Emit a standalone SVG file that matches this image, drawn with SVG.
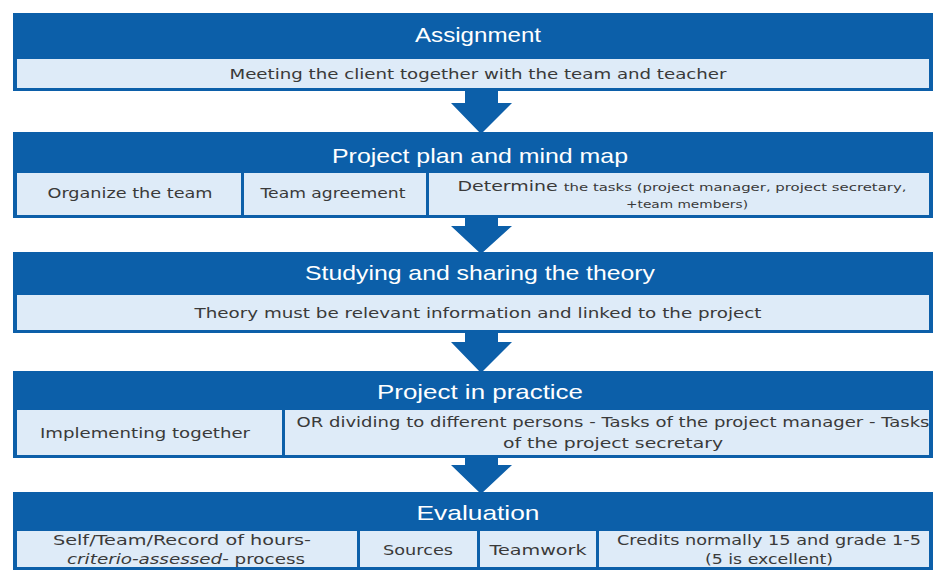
<svg xmlns="http://www.w3.org/2000/svg" width="936" height="578" viewBox="0 0 936 578">
<style>
.frame{fill:#0c5fa9}
.cell{fill:#deebf8}
.hd{font-family:"Liberation Sans","Open Sans",sans-serif;font-size:21px;fill:#ffffff;text-anchor:middle}
.tx{font-family:"DejaVu Sans","Liberation Sans",sans-serif;font-size:14px;fill:#3a3a3a;text-anchor:middle}
.sm{font-size:11px}
.arrow{fill:#0c5fa9}
</style>
<rect width="936" height="578" fill="#ffffff"/>
<g id="connectors">
<polygon class="arrow" points="465,89 498,89 498,103 512,103 481,134 451,103 465,103"/>
<polygon class="arrow" points="465,216 498,216 498,226 512,226 481,254 451,226 465,226"/>
<polygon class="arrow" points="465,331 498,331 498,342 512,342 481,373 451,342 465,342"/>
<polygon class="arrow" points="465,456 498,456 498,465 512,465 481,494 451,465 465,465"/>
</g>
<g id="assignment">
<rect class="frame" x="13" y="13" width="920" height="78"/>
<rect class="cell" x="17" y="59" width="912" height="29"/>
<text class="hd" x="478" y="42" textLength="126" lengthAdjust="spacingAndGlyphs">Assignment</text>
<text class="tx" x="478" y="79" textLength="497" lengthAdjust="spacingAndGlyphs">Meeting the client  together with the team and teacher</text>
</g>
<g id="project-plan">
<rect class="frame" x="13" y="132" width="920" height="86"/>
<rect class="cell" x="17" y="173" width="224" height="42"/>
<rect class="cell" x="244" y="173" width="182" height="42"/>
<rect class="cell" x="429" y="173" width="500" height="42"/>
<text class="hd" x="480" y="163" textLength="296" lengthAdjust="spacingAndGlyphs">Project plan and mind map</text>
<text class="tx" x="130" y="198" textLength="165" lengthAdjust="spacingAndGlyphs">Organize the team</text>
<text class="tx" x="333" y="198" textLength="145" lengthAdjust="spacingAndGlyphs">Team agreement</text>
<text class="tx" x="682" y="191" textLength="449" lengthAdjust="spacingAndGlyphs">Determine <tspan class="sm">the tasks (project manager,  project secretary,</tspan></text>
<text class="tx sm" x="687" y="208" textLength="122" lengthAdjust="spacingAndGlyphs">+team  members)</text>
</g>
<g id="theory">
<rect class="frame" x="13" y="252" width="920" height="81"/>
<rect class="cell" x="17" y="295" width="912" height="35"/>
<text class="hd" x="480" y="280" textLength="350" lengthAdjust="spacingAndGlyphs">Studying and sharing the theory</text>
<text class="tx" x="478" y="318" textLength="567" lengthAdjust="spacingAndGlyphs">Theory must be relevant information and linked to the project</text>
</g>
<g id="practice">
<rect class="frame" x="13" y="371" width="920" height="87"/>
<rect class="cell" x="17" y="410" width="265" height="45"/>
<rect class="cell" x="285" y="410" width="644" height="45"/>
<text class="hd" x="480" y="399" textLength="206" lengthAdjust="spacingAndGlyphs">Project in practice</text>
<text class="tx" x="145" y="438" textLength="210" lengthAdjust="spacingAndGlyphs">Implementing together</text>
<text class="tx" x="613" y="427" textLength="633" lengthAdjust="spacingAndGlyphs">OR dividing to different persons - Tasks of  the project  manager - Tasks</text>
<text class="tx" x="613" y="448" textLength="220" lengthAdjust="spacingAndGlyphs">of the project secretary</text>
</g>
<g id="evaluation">
<rect class="frame" x="13" y="492" width="920" height="78"/>
<rect class="cell" x="17" y="531" width="340" height="36"/>
<rect class="cell" x="360" y="531" width="117" height="36"/>
<rect class="cell" x="480" y="531" width="116" height="36"/>
<rect class="cell" x="599" y="531" width="330" height="36"/>
<text class="hd" x="478" y="520" textLength="123" lengthAdjust="spacingAndGlyphs">Evaluation</text>
<text class="tx" x="182" y="545" textLength="258" lengthAdjust="spacingAndGlyphs">Self/Team/Record of hours-</text>
<text class="tx" x="186" y="564" textLength="238" lengthAdjust="spacingAndGlyphs"><tspan font-style="italic">criterio-assessed</tspan>- process</text>
<text class="tx" x="418" y="555" textLength="70" lengthAdjust="spacingAndGlyphs">Sources</text>
<text class="tx" x="538" y="555" textLength="97" lengthAdjust="spacingAndGlyphs">Teamwork</text>
<text class="tx" x="769" y="545" textLength="304" lengthAdjust="spacingAndGlyphs">Credits normally 15 and grade 1-5</text>
<text class="tx" x="769" y="564" textLength="128" lengthAdjust="spacingAndGlyphs">(5 is excellent)</text>
</g>
</svg>
